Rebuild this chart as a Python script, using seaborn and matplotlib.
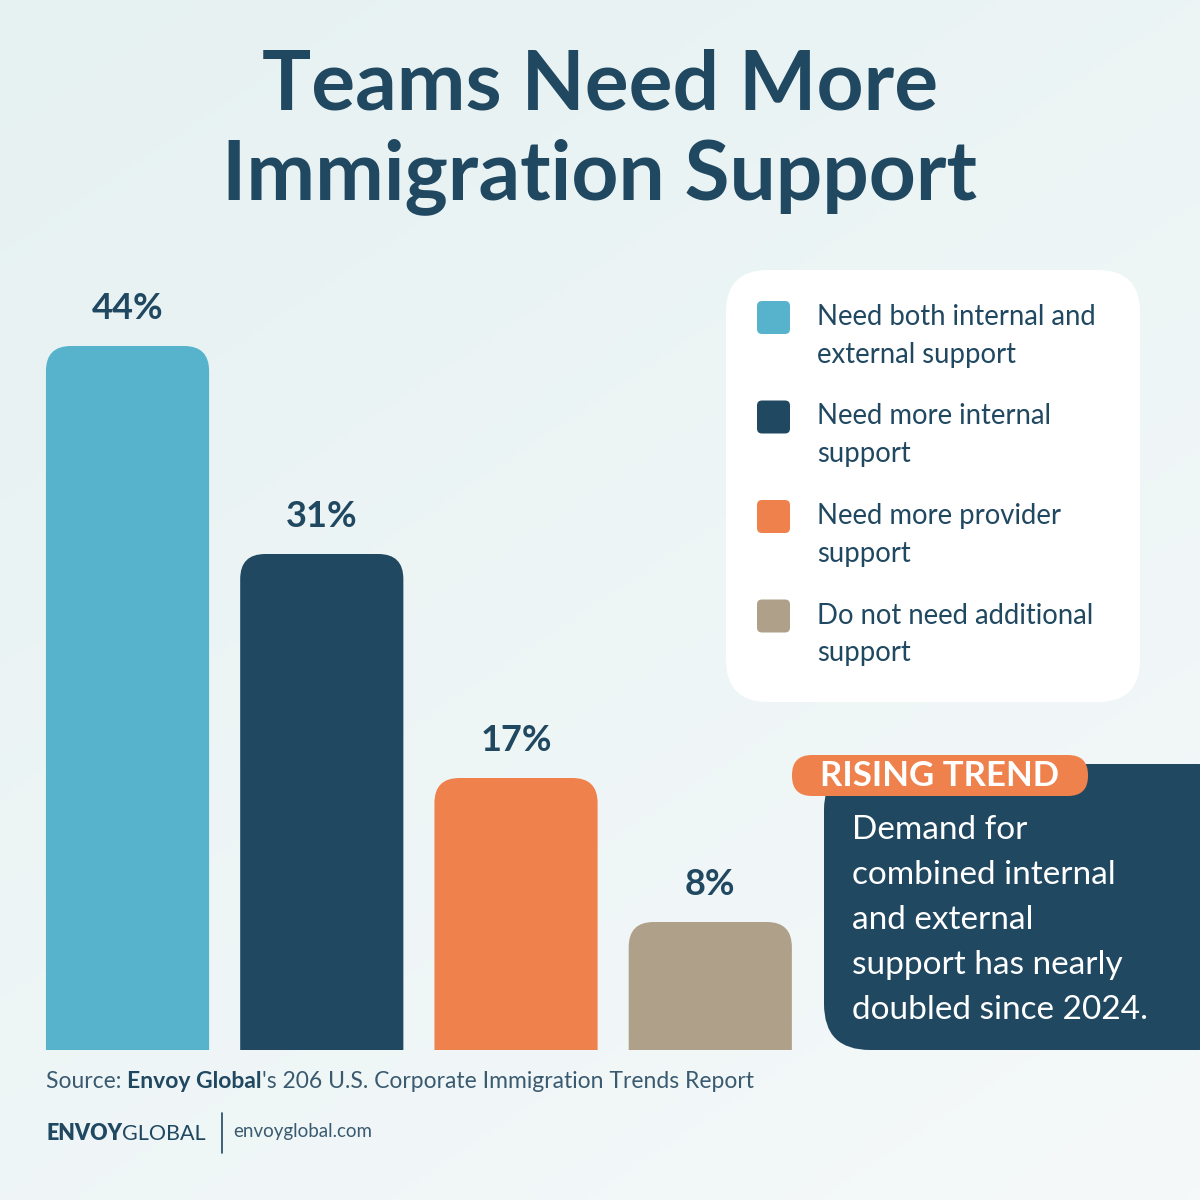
import numpy as np
import pandas as pd
import matplotlib
matplotlib.use("Agg")
import matplotlib.pyplot as plt
import seaborn as sns
from matplotlib.patches import FancyBboxPatch
from matplotlib.colors import LinearSegmentedColormap

# ---- data ----
categories = ["Need both internal and\nexternal support",
              "Need more internal\nsupport",
              "Need more provider\nsupport",
              "Do not need additional\nsupport"]
shares = [44, 31, 17, 8]
colors = ["#57b2cc", "#204861", "#ef814d", "#afa08a"]

title = "Teams Need More\nImmigration Support"
callout_tag = "RISING TREND"
callout_text = ("Demand for\ncombined internal\nand external\n"
                "support has nearly\ndoubled since 2024.")

NAVY = "#204861"
GREY = "#3a5a70"
FONT = "Lato"

df = pd.DataFrame({"cat": categories, "share": shares})

sns.set_theme(style="white")
plt.rcParams["font.family"] = [FONT, "DejaVu Sans"]

fig = plt.figure(figsize=(12, 12), dpi=100)

# background gradient
bg = fig.add_axes([0, 0, 1, 1], zorder=0)
yy, xx = np.mgrid[0:1:200j, 0:1:200j]
grad = (xx * 0.4 + yy * 0.6)
cmap = LinearSegmentedColormap.from_list("bg", ["#e6f1f1", "#f5f9fa"])
bg.imshow(grad, cmap=cmap, extent=[0, 1, 0, 1], aspect="auto", origin="upper")
bg.axis("off")

# bar axes: bottom at y=1050 px, 16 px per percent
ax = fig.add_axes([30.4 / 1200, 150 / 1200, 777 / 1200, 800 / 1200], zorder=2)
ax.patch.set_alpha(0)
sns.barplot(data=df, x="cat", y="share", hue="cat", palette=colors,
            width=0.84, saturation=1, legend=False, ax=ax)
ax.set_xlim(-0.5, 3.5)
ax.set_ylim(0, 50)
ax.axis("off")

rx, ry = 25 / 194.25, 25 / 16
for p in ax.patches:
    p.set_visible(False)
    rb = FancyBboxPatch((p.get_x(), -ry), p.get_width(), p.get_height() + ry,
                        boxstyle=f"round,pad=0,rounding_size={rx}",
                        mutation_aspect=ry / rx, fc=p.get_facecolor(), ec="none")
    ax.add_patch(rb)
for c in ax.containers:
    ax.bar_label(c, labels=[f"{v:.0f}%" for v in c.datavalues], padding=15,
                 fontsize=26, fontweight="bold", color=NAVY)

# overlay in pixel coordinates
ov = fig.add_axes([0, 0, 1, 1], zorder=3)
ov.set_xlim(0, 1200)
ov.set_ylim(1200, 0)
ov.axis("off")
ov.patch.set_alpha(0)

ov.text(600, 132, title, ha="center", va="center", fontsize=59,
        fontweight="bold", color=NAVY, linespacing=1.24)

# legend card
ov.add_patch(FancyBboxPatch((726, 270), 414, 432,
                            boxstyle="round,pad=0,rounding_size=42",
                            fc="white", ec="none"))
for i, (lab, col) in enumerate(zip(categories, colors)):
    y0 = 317 + i * 99.5
    ov.add_patch(FancyBboxPatch((757, y0 - 16), 33, 33,
                                boxstyle="round,pad=0,rounding_size=5",
                                fc=col, ec="none"))
    ov.text(817, y0 - 13, lab, ha="left", va="top", fontsize=19.8,
            color=NAVY, linespacing=1.55)

# callout
ov.add_patch(FancyBboxPatch((824, 764), 420, 286,
                            boxstyle="round,pad=0,rounding_size=46",
                            fc=NAVY, ec="none"))
ov.add_patch(FancyBboxPatch((792, 755), 296, 41,
                            boxstyle="round,pad=0,rounding_size=20",
                            fc="#ef814d", ec="none"))
ov.text(940, 776, callout_tag, ha="center", va="center", fontsize=25,
        fontweight="bold", color="white")
ov.text(852, 815, callout_text, ha="left", va="top", fontsize=24,
        color="white", linespacing=1.62)

# source line with mixed weights
r = fig.canvas.get_renderer()
x = 46
for txt, w in [("Source: ", "normal"), ("Envoy Global", "bold"),
               ("'s 206 U.S. Corporate Immigration Trends Report", "normal")]:
    t = ov.text(x, 1081, txt, ha="left", va="center", fontsize=16.5,
                fontweight=w, color=GREY if w == "normal" else NAVY)
    x += t.get_window_extent(renderer=r).width

# logo
x = 46
for txt, w in [("ENVOY", "heavy"), ("GLOBAL", "normal")]:
    t = ov.text(x, 1134, txt, ha="left", va="center", fontsize=15.5,
                fontweight=w, color=NAVY)
    x += t.get_window_extent(renderer=r).width
ov.plot([222, 222], [1113, 1153], color=NAVY, lw=1.2)
ov.text(233, 1132, "envoyglobal.com", ha="left", va="center", fontsize=13.5,
        fontweight="normal", color=GREY)

fig.savefig("out.png", dpi=100)
